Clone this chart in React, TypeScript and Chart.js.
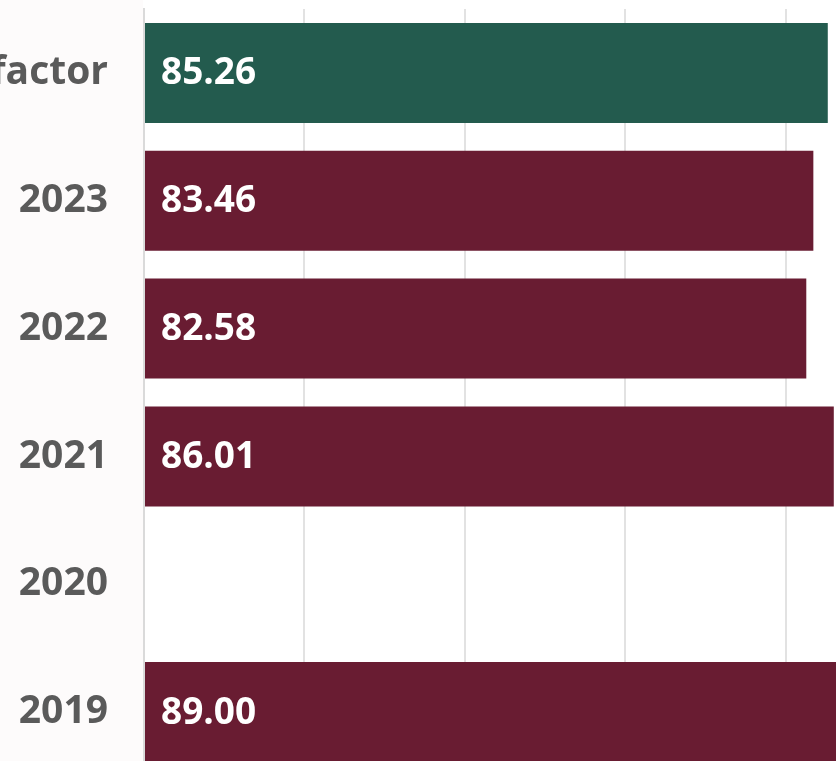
import React, { useEffect, useRef } from "react";
import { Chart, registerables } from "chart.js";

Chart.register(...registerables);

const categories = ["factor", "2023", "2022", "2021", "2020", "2019"];
const values: (number | null)[] = [85.26, 83.46, 82.58, 86.01, null, 89.0];
const barColors = ["#235B4E", "#691C32", "#691C32", "#691C32", "#691C32", "#691C32"];
const xTicks = [0, 20, 40, 60, 80, 100];

const FONT = "'Open Sans', 'DejaVu Sans', sans-serif";

const bgPlugin = {
  id: "leftBg",
  beforeDraw(chart: any) {
    const { ctx, chartArea } = chart;
    ctx.save();
    ctx.fillStyle = "#fdfbfb";
    ctx.fillRect(0, 0, chartArea.left - 1, chart.height);
    ctx.restore();
  },
};

const valueLabels = {
  id: "valueLabels",
  afterDatasetsDraw(chart: any) {
    const { ctx } = chart;
    const meta = chart.getDatasetMeta(0);
    ctx.save();
    ctx.fillStyle = "#ffffff";
    ctx.font = `700 37px ${FONT}`;
    ctx.textAlign = "left";
    ctx.textBaseline = "middle";
    meta.data.forEach((bar: any, i: number) => {
      const v = values[i];
      if (v === null || v === undefined) return;
      ctx.fillText(v.toFixed(2), bar.base + 16, bar.y + 1);
    });
    ctx.restore();
  },
};

export default function App() {
  const ref = useRef<HTMLCanvasElement>(null);
  useEffect(() => {
    if (!ref.current) return;
    const chart = new Chart(ref.current, {
      type: "bar",
      data: {
        labels: categories,
        datasets: [
          {
            data: values,
            backgroundColor: barColors,
            borderWidth: 0,
            categoryPercentage: 0.782,
            barPercentage: 1,
          },
        ],
      },
      options: {
        indexAxis: "y",
        animation: false,
        responsive: false,
        maintainAspectRatio: false,
        layout: { padding: { top: 9, bottom: 1, left: 0, right: 0 } },
        plugins: { legend: { display: false }, tooltip: { enabled: false } },
        scales: {
          x: {
            min: xTicks[0],
            max: xTicks[xTicks.length - 1],
            afterBuildTicks: (scale: any) => {
              scale.ticks = xTicks.map((v) => ({ value: v }));
            },
            afterFit: (scale: any) => {
              scale.height = 0;
              scale.paddingLeft = 0;
              scale.paddingRight = 0;
            },
            ticks: { display: false },
            grid: { color: "#e2e2e2", lineWidth: 2, drawTicks: false },
            border: { display: false },
          },
          y: {
            afterFit: (scale: any) => {
              scale.width = 144;
              scale.paddingTop = 0;
              scale.paddingBottom = 0;
            },
            ticks: {
              color: "#5a5a5a",
              font: { family: FONT, size: 39, weight: "700" },
              padding: 36,
            },
            grid: { display: false, drawTicks: false },
            border: { display: true, color: "#dadada", width: 2 },
          },
        },
      },
      plugins: [bgPlugin, valueLabels],
    });
    return () => chart.destroy();
  }, []);
  return (
    <div
      style={{
        position: "fixed",
        left: 0,
        top: 0,
        width: 836,
        height: 761,
        overflow: "hidden",
        background: "#ffffff",
      }}
    >
      <canvas ref={ref} width={946} height={777} style={{ display: "block" }} />
    </div>
  );
}
